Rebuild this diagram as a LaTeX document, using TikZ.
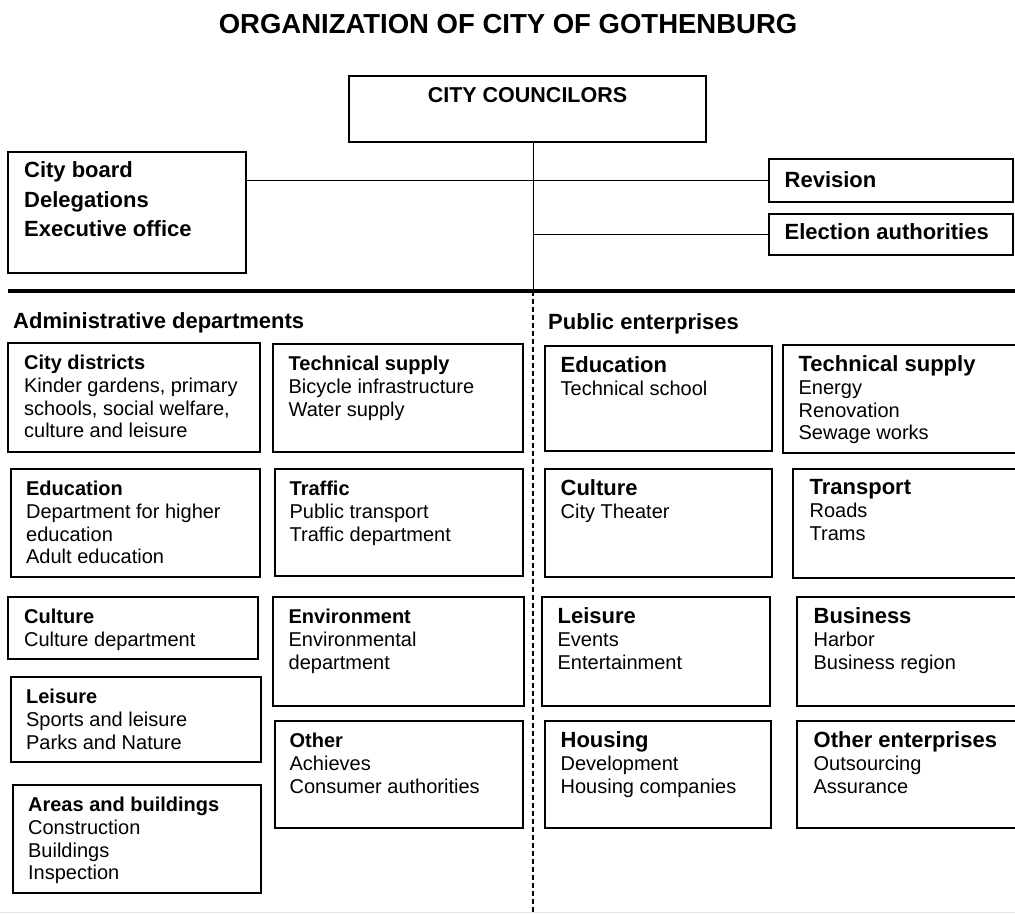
\documentclass[tikz,border=0pt]{standalone}
\usepackage{fontspec}
\setmainfont{Liberation Sans}
\usetikzlibrary{positioning,fit}
\newcommand{\pubhead}[1]{{\fontsize{22}{22.75}\selectfont\bfseries #1}}

\begin{document}
\begin{tikzpicture}[x=1pt,y=-1pt,
    box/.style={draw, line width=1.1pt, inner sep=0pt},
    txt/.style={align=left, inner sep=0pt, font=\fontsize{20}{22.75}\selectfont},
    head/.style={inner sep=0pt, font=\fontsize{22}{26}\selectfont\bfseries},
    link/.style={line width=1pt}]
    \useasboundingbox (0,0) rectangle (1015,914);

    \node[head, font=\fontsize{27.5}{30}\selectfont\bfseries, anchor=base] (title) at (508,33) {ORGANIZATION OF CITY OF GOTHENBURG};

    % top level
    \node[box, fit={(349,76) (706,142)}] (councils) {};
    \node[head, font=\fontsize{21.5}{26}\selectfont\bfseries, below=11.5pt of councils.north] {CITY COUNCILORS};
    \node[box, fit={(8,152) (246,273)}] (board) {};
    \node[head, align=left, font=\fontsize{22}{29.5}\selectfont\bfseries, below right=10pt and 16.5pt of board.north west] {City board\\Delegations\\Executive office};
    \node[box, fit={(769,159) (1013,202)}] (revision) {};
    \node[head, below right=13pt and 16pt of revision.north west] {Revision};
    \node[box, fit={(769,214) (1013,255)}] (election) {};
    \node[head, below right=10pt and 16pt of election.north west] {Election authorities};

    \coordinate (split) at (533,291);
    \coordinate (bottom) at (533,914);
    \draw[link] (board.east |- revision.west) -- (revision.west);
    \draw[link] (councils.south -| split) -- (split);
    \draw[link] (split |- election.west) -- (election.west);
    \draw[line width=3.5pt] (8,291) -- (1015,291);
    \draw[line width=1.1pt, dash pattern=on 5pt off 3pt] (split) -- (bottom);
    \draw[black!10, line width=1.5pt] (0,912.5) -- (1015,912.5);

    \node[head, anchor=base west] (admin) at (13,328) {Administrative departments};
    \node[head, anchor=base west] (public) at (548,329) {Public enterprises};

    % administrative departments
    \node[box, fit={(8,343) (260,452)}] (cdist) {};
    \node[txt, below right=12.5pt and 16.5pt of cdist.north west] {\textbf{City districts}\\Kinder gardens, primary\\schools, social welfare,\\culture and leisure};
    \node[box, fit={(11,469) (260,577)}] (aedu) {};
    \node[txt, below right=12.5pt and 15.5pt of aedu.north west] {\textbf{Education}\\Department for higher\\education\\Adult education};
    \node[box, fit={(8,597) (258,659)}] (acult) {};
    \node[txt, below right=12.5pt and 16.5pt of acult.north west] {\textbf{Culture}\\Culture department};
    \node[box, fit={(11,677) (261,762)}] (aleis) {};
    \node[txt, below right=12.5pt and 15.5pt of aleis.north west] {\textbf{Leisure}\\Sports and leisure\\Parks and Nature};
    \node[box, fit={(13,785) (261,893)}] (areas) {};
    \node[txt, below right=12.5pt and 15.5pt of areas.north west] {\textbf{Areas and buildings}\\Construction\\Buildings\\Inspection};

    \node[box, fit={(273,344) (523,452)}] (atech) {};
    \node[txt, below right=12.5pt and 16pt of atech.north west] {\textbf{Technical supply}\\Bicycle infrastructure\\Water supply};
    \node[box, fit={(275,469) (523,576)}] (traffic) {};
    \node[txt, below right=12.5pt and 15pt of traffic.north west] {\textbf{Traffic}\\Public transport\\Traffic department};
    \node[box, fit={(273,597) (524,706)}] (envir) {};
    \node[txt, below right=12.5pt and 16pt of envir.north west] {\textbf{Environment}\\Environmental\\department};
    \node[box, fit={(275,721) (523,828)}] (aother) {};
    \node[txt, below right=12.5pt and 15pt of aother.north west] {\textbf{Other}\\Achieves\\Consumer authorities};

    % public enterprises
    \node[box, fit={(545,346) (772,451)}] (pedu) {};
    \node[txt, below right=11pt and 16pt of pedu.north west] {\pubhead{Education}\\Technical school};
    \node[box, fit={(545,469) (772,577)}] (pcult) {};
    \node[txt, below right=11pt and 16pt of pcult.north west] {\pubhead{Culture}\\City Theater};
    \node[box, fit={(542,597) (770,706)}] (pleis) {};
    \node[txt, below right=11pt and 16pt of pleis.north west] {\pubhead{Leisure}\\Events\\Entertainment};
    \node[box, fit={(545,721) (771,828)}] (housing) {};
    \node[txt, below right=11pt and 16pt of housing.north west] {\pubhead{Housing}\\Development\\Housing companies};

    \node[box, fit={(783,345) (1020,453)}] (ptech) {};
    \node[txt, below right=11pt and 16pt of ptech.north west] {\pubhead{Technical supply}\\Energy\\Renovation\\Sewage works};
    \node[box, fit={(793,469) (1020,578)}] (transport) {};
    \node[txt, below right=11pt and 17pt of transport.north west] {\pubhead{Transport}\\Roads\\Trams};
    \node[box, fit={(797,597) (1020,706)}] (business) {};
    \node[txt, below right=11pt and 17pt of business.north west] {\pubhead{Business}\\Harbor\\Business region};
    \node[box, fit={(797,721) (1020,828)}] (pother) {};
    \node[txt, below right=11pt and 17pt of pother.north west] {\pubhead{Other enterprises}\\Outsourcing\\Assurance};
\end{tikzpicture}
\end{document}
